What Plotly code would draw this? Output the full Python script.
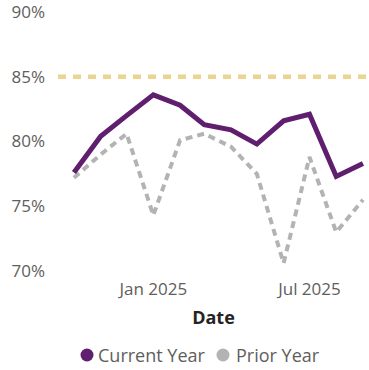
import plotly.graph_objects as go

# Monthly values (percent)
months = ["2024-10-01", "2024-11-01", "2024-12-01", "2025-01-01", "2025-02-01", "2025-03-01",
          "2025-04-01", "2025-05-01", "2025-06-01", "2025-07-01", "2025-08-01", "2025-09-01"]
current_year = [77.6, 80.4, 82.0, 83.6, 82.8, 81.3, 80.9, 79.8, 81.6, 82.1, 77.3, 78.3]
prior_year = [77.2, 79.0, 80.6, 74.3, 80.1, 80.6, 79.6, 77.5, 70.6, 78.8, 73.0, 75.5]
target = 85
y_ticks = [70, 75, 80, 85, 90]
y_tick_labels = [f"{v}%" for v in y_ticks]
x_tick_dates = ["2025-01-01", "2025-07-01"]
x_tick_labels = ["Jan 2025", "Jul 2025"]
series_names = ["Current Year", "Prior Year"]

PURPLE = "#5F1E6E"
GRAY = "#B3B3B3"
GOLD = "#EBD491"
FONT = "Open Sans"

W, H = 369, 370
ML, MR, MT, MB = 58, 0, 12, 99

fig = go.Figure()
fig.add_trace(go.Scatter(x=months, y=prior_year, mode="lines", name=series_names[1],
                         line=dict(color=GRAY, width=4, dash="7px,5px"), showlegend=False))
fig.add_trace(go.Scatter(x=months, y=current_year, mode="lines", name=series_names[0],
                         line=dict(color=PURPLE, width=5), showlegend=False))

# Target reference line
fig.add_shape(type="line", xref="paper", x0=0, x1=1, yref="y", y0=target, y1=target,
              line=dict(color=GOLD, width=4.5, dash="8px,7px"), layer="below")


def px_x(px):
    return (px - ML) / (W - ML - MR)


def px_y(py):
    return (H - MB - py) / (H - MT - MB)


# Legend drawn as dots with labels
legend_items = [(87, 96, series_names[0], PURPLE), (223, 234, series_names[1], GRAY)]
ly = 355
for cx, tx, label, col in legend_items:
    fig.add_shape(type="circle", xref="paper", yref="paper",
                  xsizemode="pixel", ysizemode="pixel",
                  xanchor=px_x(cx), yanchor=px_y(ly), x0=-6.5, x1=6.5, y0=-6.5, y1=6.5,
                  fillcolor=col, line=dict(width=0))
    fig.add_annotation(x=px_x(tx), y=px_y(ly), xref="paper", yref="paper",
                       text=label, showarrow=False, xanchor="left", yanchor="middle",
                       font=dict(family=FONT, size=18, color="#605E5C"))

fig.update_layout(
    width=W, height=H,
    margin=dict(l=ML, r=MR, t=MT, b=MB),
    paper_bgcolor="white", plot_bgcolor="white",
    font=dict(family=FONT, color="#605E5C", size=17),
    showlegend=False,
)
fig.update_xaxes(
    range=["2024-09-12 12:00", "2025-09-08"],
    tickvals=x_tick_dates, ticktext=x_tick_labels,
    showgrid=False, zeroline=False, showline=False, ticks="",
    tickfont=dict(family=FONT, size=17, color="#605E5C"),
    ticklabelstandoff=6,
    title=dict(text="<b>Date</b>", font=dict(family=FONT, size=18, color="#252423"), standoff=12),
)
fig.update_yaxes(
    range=[70, 90], tickvals=y_ticks, ticktext=y_tick_labels,
    showgrid=False, zeroline=False, showline=False, ticks="",
    tickfont=dict(family=FONT, size=17, color="#605E5C"),
    ticklabelstandoff=12, ticklabeloverflow="allow",
)

fig.write_html("out.html")
